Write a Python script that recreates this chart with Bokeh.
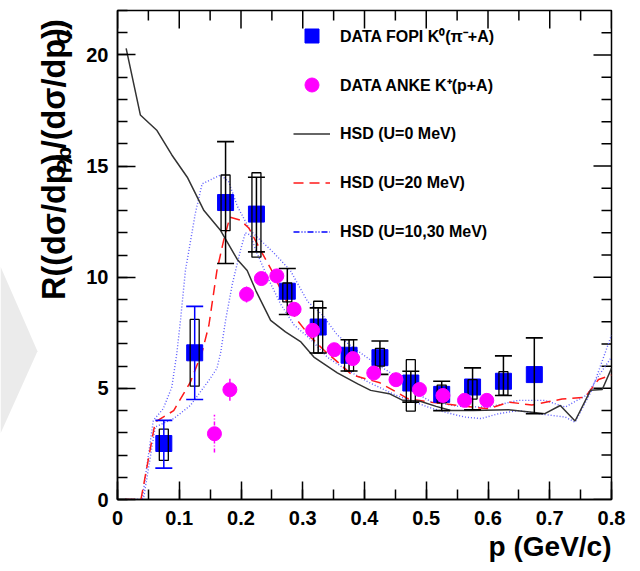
import glob
import math

from bokeh.core.properties import value
from bokeh.embed import file_html
from bokeh.layouts import row
from bokeh.models import (Legend, LegendItem, NumeralTickFormatter, Range1d,
                          SingleIntervalTicker, Title)
from bokeh.plotting import figure
from bokeh.resources import INLINE

nan = float("nan")

# ---- FOPI K0 (pi- + A): ratio Pb/C, statistical and systematic ranges ----
fopi_p = [0.075, 0.125, 0.175, 0.225, 0.275, 0.325, 0.375, 0.425, 0.475, 0.525, 0.575, 0.625, 0.675]
fopi_r = [2.52, 6.6, 13.36, 12.84, 9.37, 7.76, 6.49, 6.38, 5.24, 4.73, 5.06, 5.32, 5.62]
fopi_stat_lo = [1.41, 4.5, 10.62, 11.14, 8.32, 6.59, 5.78, 5.63, 4.38, 4.0, 4.04, 4.68, 3.86]
fopi_stat_hi = [3.56, 8.69, 16.1, 14.5, 10.39, 8.62, 7.19, 7.13, 5.77, 5.32, 5.92, 6.46, 7.27]
fopi_sys_lo = [1.76, 5.1, 12.1, 10.9, 8.89, 6.59, 5.78, 6.0, 3.98, 4.35, 4.52, 4.7, nan]
fopi_sys_hi = [3.17, 8.1, 14.6, 14.7, 9.74, 8.92, 7.19, 6.8, 6.29, 5.15, 5.39, 5.75, nan]

# ---- ANKE K+ (p + A) ----
anke_p = [0.157, 0.182, 0.209, 0.233, 0.258, 0.286, 0.316, 0.351, 0.381, 0.415, 0.451, 0.489,
          0.527, 0.562, 0.598]
anke_r = [2.96, 4.94, 9.23, 9.94, 10.06, 8.56, 7.61, 6.74, 6.34, 5.69, 5.39, 4.95, 4.68, 4.46, 4.46]
anke_err = [0.85, 0.5, 0.37, 0.3, 0.3, 0.3, 0.25, 0.25, 0.2, 0.2, 0.2, 0.2, 0.2, 0.2, 0.2]

# ---- HSD transport calculations ----
hsd0_p = [0.014, 0.037, 0.064, 0.088, 0.113, 0.14, 0.167, 0.194, 0.21, 0.224, 0.248, 0.272, 0.297,
          0.318, 0.356, 0.389, 0.41, 0.44, 0.462, 0.489, 0.516, 0.54, 0.576, 0.633, 0.671, 0.692,
          0.717, 0.741, 0.766, 0.785, 0.8]
hsd0_r = [20.3, 17.3, 16.6, 15.5, 14.5, 13.0, 12.1, 10.8, 10.3, 9.4, 8.06, 7.54, 7.09, 6.41, 5.7,
          5.2, 4.91, 4.76, 4.46, 4.43, 4.19, 4.0, 4.0, 4.04, 3.93, 3.86, 4.23, 3.53, 4.91, 4.95, 5.9]

hsd20_p = [0.012, 0.038, 0.061, 0.091, 0.118, 0.137, 0.148, 0.161, 0.172, 0.182, 0.199, 0.213,
           0.232, 0.251, 0.267, 0.29, 0.313, 0.335, 0.36, 0.38, 0.425, 0.47, 0.508, 0.552, 0.6,
           0.635, 0.671, 0.72, 0.757, 0.779, 0.8]
hsd20_r = [0, 0, 3.48, 4.0, 5.28, 6.63, 7.84, 10.3, 11.67, 12.7, 12.57, 12.2, 11.2, 10.24, 9.27,
           8.1, 7.3, 6.7, 6.1, 5.6, 5.25, 4.54, 4.38, 4.23, 4.08, 4.38, 4.25, 4.52, 4.6, 5.4, 5.6]

hsd10_p = [0.012, 0.04, 0.058, 0.074, 0.088, 0.096, 0.102, 0.11, 0.126, 0.137, 0.167, 0.18, 0.194,
           0.215, 0.253, 0.28, 0.308, 0.332, 0.356, 0.383, 0.419, 0.448, 0.47, 0.508, 0.55, 0.6,
           0.649, 0.692, 0.725, 0.76, 0.78, 0.8]
hsd10_r = [0, 0, 3.56, 4.08, 5.06, 6.56, 8.06, 10.3, 12.87, 14.2, 14.6, 14.3, 13.2, 12.1, 11.1,
           10.3, 8.9, 8.3, 7.4, 6.8, 6.1, 5.6, 5.0, 4.4, 4.2, 4.15, 4.46, 4.46, 4.16, 4.7, 5.6, 6.4]

hsd30_p = [0.012, 0.042, 0.061, 0.091, 0.118, 0.148, 0.161, 0.167, 0.175, 0.186, 0.199, 0.207,
           0.215, 0.226, 0.243, 0.264, 0.286, 0.313, 0.34, 0.367, 0.405, 0.45, 0.503, 0.53, 0.562,
           0.589, 0.617, 0.649, 0.682, 0.725, 0.741, 0.768, 0.8]
hsd30_r = [0, 0, 3.26, 3.64, 4.23, 5.36, 5.9, 6.6, 8.06, 9.7, 11.2, 12.0, 11.9, 11.07, 10.0, 8.8,
           7.85, 7.2, 6.4, 5.9, 5.3, 4.7, 4.16, 3.93, 3.71, 3.64, 3.86, 4.0, 3.86, 3.71, 3.48,
           4.91, 7.4]

# ---- axis ticks and labels ----
x_major = [0.0, 0.1, 0.2, 0.3, 0.4, 0.5, 0.6, 0.7, 0.8]
x_minor = [0.05, 0.15, 0.25, 0.35, 0.45, 0.55, 0.65, 0.75]
y_major = [0, 5, 10, 15, 20]
y_minor = [1, 2, 3, 4, 6, 7, 8, 9, 11, 12, 13, 14, 16, 17, 18, 19, 21]

legend_labels = ["DATA FOPI K\u2070(\u03c0\u207b+A)", "DATA ANKE K\u207a(p+A)",
                 "HSD (U=0 MeV)", "HSD (U=20 MeV)", "HSD (U=10,30 MeV)"]
x_title = "p (GeV/c)"
y_title = [("R((d\u03c3/dp)", False), ("Pb", True), ("/(d\u03c3/dp)", False), ("C", True),
           (")", False)]

FONT = "Liberation Sans"
BLUE = "#0000ff"
MAGENTA = "#ff00ff"

W, H = 640, 571
TITLE_W = 75                      # strip on the left that carries the rotated y title
LEFT, RIGHT, TOP, BOTTOM = 117, 29, 10, 72
X0, X1, Y0, Y1 = 0.0, 0.8, 0.0, 22.0
FW, FH = W - LEFT - RIGHT, H - TOP - BOTTOM
PX_X = (X1 - X0) / FW
PX_Y = (Y1 - Y0) / FH


# ---- text advance widths (em units) for the rotated y title ----
FALLBACK_EM = {"R((d\u03c3/dp)": 4.85, "Pb": 1.278, "/(d\u03c3/dp)": 4.05, "C": 0.722,
               ")": 0.333}


def make_measure():
    try:
        from PIL import ImageFont
        paths = sorted(glob.glob("/usr/share/fonts/**/LiberationSans-Bold.ttf", recursive=True))
        font = ImageFont.truetype(paths[0], 100)
        return lambda txt: font.getlength(txt) / 100.0
    except Exception:
        return lambda txt: FALLBACK_EM[txt]


em = make_measure()
SUB_RATIO = 0.64
GAP = 1.5                                 # px between title pieces
TITLE_BOTTOM, TITLE_TOP = 338.0, 12.0     # canvas rows spanned by the rotated title
span_em = sum(em(t) * (SUB_RATIO if s else 1.0) for t, s in y_title)
MAIN = min(33.0, max(26.0, (TITLE_BOTTOM - TITLE_TOP - 4 * GAP) / span_em))
SUB = MAIN * SUB_RATIO

# ---------------- left strip: y title and grey chevron ----------------
side = figure(width=TITLE_W, height=H, output_backend="svg", toolbar_location=None,
              x_range=Range1d(0, TITLE_W), y_range=Range1d(0, H),
              x_axis_type=None, y_axis_type=None, min_border=0,
              outline_line_color=None, background_fill_color="white",
              border_fill_color="white")
side.grid.visible = False

side.patch(x=[0, 37, 0], y=[H - 299, H - 398, H - 494], fill_color="#ebebeb",
           line_color=None)

pos = TITLE_BOTTOM
main_x, main_y, main_t, sub_x, sub_y, sub_t = [], [], [], [], [], []
for txt, is_sub in y_title:
    if is_sub:
        sub_x.append(63); sub_y.append(H - pos); sub_t.append(txt)
        pos -= em(txt) * SUB + GAP
    else:
        main_x.append(53); main_y.append(H - pos); main_t.append(txt)
        pos -= em(txt) * MAIN + GAP

for xs, ys, ts, size in ((main_x, main_y, main_t, MAIN), (sub_x, sub_y, sub_t, SUB)):
    side.text(x=xs, y=ys, text=ts, angle=math.pi / 2, text_align="left",
              text_baseline="alphabetic", text_font=value(FONT), text_font_style="bold",
              text_font_size=value(f"{size:.1f}px"), text_color="black")

# ---------------- main plot ----------------
p = figure(width=W - TITLE_W, height=H, output_backend="svg", toolbar_location=None,
           x_range=Range1d(X0, X1), y_range=Range1d(Y0, Y1),
           min_border_left=LEFT - TITLE_W, min_border_right=RIGHT, min_border_top=TOP,
           min_border_bottom=BOTTOM, background_fill_color="white", border_fill_color="white")
p.grid.visible = False
p.outline_line_color = "black"
p.outline_line_width = 1.5

p.xaxis.ticker = SingleIntervalTicker(interval=0.1, num_minor_ticks=2)
p.yaxis.ticker = SingleIntervalTicker(interval=5, num_minor_ticks=5)
p.xaxis.formatter = NumeralTickFormatter(format="0.[0]")
for ax in (p.xaxis[0], p.yaxis[0]):
    ax.axis_line_color = "black"
    ax.axis_line_width = 1.5
    ax.major_tick_in = 18
    ax.major_tick_out = 0
    ax.minor_tick_in = 10
    ax.minor_tick_out = 0
    ax.major_tick_line_width = 1.5
    ax.minor_tick_line_width = 1.5
    ax.major_tick_line_color = "black"
    ax.minor_tick_line_color = "black"
    ax.major_label_text_font = FONT
    ax.major_label_text_font_style = "bold"
    ax.major_label_text_font_size = "20px"
    ax.major_label_text_color = "black"
p.xaxis.major_label_standoff = 11
p.yaxis.major_label_standoff = 9

p.add_layout(Title(text=x_title, align="right", text_font=FONT, text_font_style="bold",
                   text_font_size="28px", text_color="black", standoff=3), "below")

# mirrored ticks on the top and right frame edges
maj_dx, min_dx = 18 * PX_X, 10 * PX_X
maj_dy, min_dy = 18 * PX_Y, 10 * PX_Y
tick_style = dict(line_color="black", line_width=1.5)
p.segment(x0=x_major, y0=[Y1] * len(x_major), x1=x_major, y1=[Y1 - maj_dy] * len(x_major),
          **tick_style)
p.segment(x0=x_minor, y0=[Y1] * len(x_minor), x1=x_minor, y1=[Y1 - min_dy] * len(x_minor),
          **tick_style)
p.segment(x0=[X1] * len(y_major), y0=y_major, x1=[X1 - maj_dx] * len(y_major), y1=y_major,
          **tick_style)
p.segment(x0=[X1] * len(y_minor), y0=y_minor, x1=[X1 - min_dx] * len(y_minor), y1=y_minor,
          **tick_style)

# model curves
r_hsd10 = p.line(hsd10_p, hsd10_r, line_color="#5c5cff", line_width=1.4, line_dash="1 2")
r_hsd30 = p.line(hsd30_p, hsd30_r, line_color="#5c5cff", line_width=1.4, line_dash="1 2")
r_hsd20 = p.line(hsd20_p, hsd20_r, line_color="#ff1a1a", line_width=1.5, line_dash="10 6")
r_hsd0 = p.line(hsd0_p, hsd0_r, line_color="#333333", line_width=1.5)
# legend sample for the U=10,30 band
r_hsd_band = p.line(x=[nan, nan], y=[nan, nan], line_color=BLUE, line_width=1.3,
                    line_dash="6 2 1 2 1 2")

# FOPI points with systematic boxes and statistical bars
r_fopi = p.scatter(fopi_p, fopi_r, marker="square", size=16, fill_color=BLUE, line_color=BLUE)

sys_mid = [(a + b) / 2 for a, b in zip(fopi_sys_lo, fopi_sys_hi)]
sys_len = [b - a for a, b in zip(fopi_sys_lo, fopi_sys_hi)]
p.rect(x=fopi_p, y=sys_mid, width=9, height=sys_len, width_units="screen",
       fill_color=None, line_color="black", line_width=1.3)

bar_colors = [BLUE if i < 2 else "black" for i in range(len(fopi_p))]
p.segment(x0=fopi_p, y0=fopi_stat_lo, x1=fopi_p, y1=fopi_stat_hi,
          line_color=bar_colors, line_width=1.5)
p.scatter(x=fopi_p + fopi_p, y=fopi_stat_lo + fopi_stat_hi, marker="dash", size=17,
          line_color=bar_colors + bar_colors, line_width=1.6)

# ANKE points
anke_lo = [r - e for r, e in zip(anke_r, anke_err)]
anke_hi = [r + e for r, e in zip(anke_r, anke_err)]
p.segment(x0=anke_p, y0=anke_lo, x1=anke_p, y1=anke_hi, line_color=MAGENTA,
          line_width=1.5, line_dash="4 2 1 2")
r_anke = p.scatter(anke_p, anke_r, marker="circle", size=14, fill_color=MAGENTA,
                   line_color=MAGENTA)

legend = Legend(
    items=[LegendItem(label=legend_labels[0], renderers=[r_fopi]),
           LegendItem(label=legend_labels[1], renderers=[r_anke]),
           LegendItem(label=legend_labels[2], renderers=[r_hsd0]),
           LegendItem(label=legend_labels[3], renderers=[r_hsd20]),
           LegendItem(label=legend_labels[4], renderers=[r_hsd_band])],
    location=(176, 250), orientation="vertical",
    glyph_width=37, glyph_height=35, label_height=35, label_standoff=10, spacing=14,
    padding=0, margin=0, border_line_alpha=0, background_fill_alpha=0,
    label_text_font=FONT, label_text_font_style="bold", label_text_font_size="16px",
    label_text_color="black")
p.add_layout(legend)

layout = row(side, p, spacing=0)
open("out.html", "w").write(file_html(layout, INLINE))
